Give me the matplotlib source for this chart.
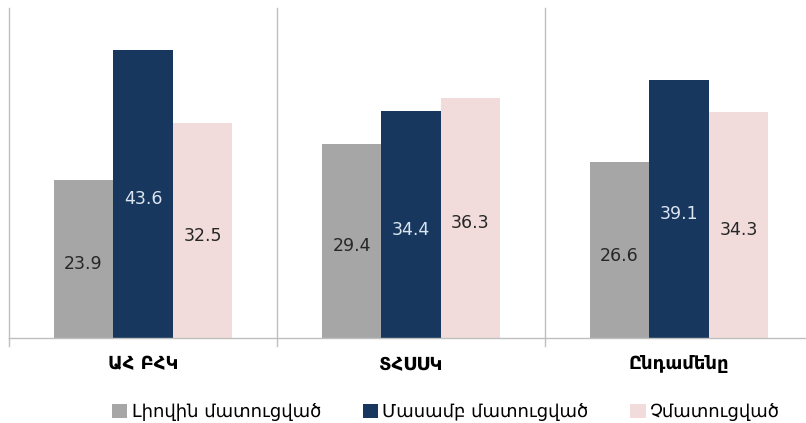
import matplotlib
matplotlib.use("Agg")
import matplotlib.pyplot as plt
import numpy as np
from matplotlib.patches import Patch

categories = ["ԱՀ ԲՀԿ", "ՏՀՍՍԿ", "Ընդամենը"]
series_names = ["Լիովին մատուցված", "Մասամբ մատուցված", "Չմատուցված"]
full = [23.9, 29.4, 26.6]
partial = [43.6, 34.4, 39.1]
none_ = [32.5, 36.3, 34.3]
series = [full, partial, none_]
colors = ["#A6A6A6", "#17375E", "#F2DCDB"]
label_colors = ["#262626", "#DCE6F2", "#262626"]

W, H = 806, 423
fig = plt.figure(figsize=(W / 100, H / 100), dpi=100)
ax = fig.add_axes([9 / W, 1 - 338 / H, 804 / W, 330 / H])

x = np.arange(len(categories))
bw = 59.5 / 268
for i, (vals, c, lc) in enumerate(zip(series, colors, label_colors)):
    pos = x + (i - 1) * bw
    ax.bar(pos, vals, width=bw, color=c, label=series_names[i], zorder=2)
    for p, v in zip(pos, vals):
        ax.text(p, v / 2 - 0.8, f"{v}", ha="center", va="center", color=lc,
                fontsize=12.5, family="DejaVu Sans")

ax.set_xlim(-0.5, 2.5)
ax.set_ylim(0, 50)
ax.set_yticks([])
ax.set_xticks([])
for s in ["top", "right", "left"]:
    ax.spines[s].set_visible(False)
ax.spines["bottom"].set_color("#BFBFBF")
ax.spines["bottom"].set_linewidth(1)

# group separators
for xs in [-0.5, 0.5, 1.5, 2.5]:
    ax.plot([xs, xs], [0, 50], color="#BFBFBF", lw=1, clip_on=False, zorder=1)
    ax.plot([xs, xs], [0, -1.2], color="#BFBFBF", lw=1, clip_on=False, zorder=1)

for xi, cat in zip(x, categories):
    ax.text(xi, -3.95, cat, ha="center", va="center", fontsize=13,
            family="DejaVu Sans", fontweight="bold", color="#000000")

handles = [Patch(facecolor=c, edgecolor="none") for c in colors]
fig.legend(handles, series_names, loc="center", bbox_to_anchor=(446 / W, 1 - 412 / H),
           ncol=3, frameon=False, handlelength=0.85, handleheight=0.85,
           handletextpad=0.25, columnspacing=2.3,
           prop={"family": "DejaVu Sans", "size": 13})

fig.savefig("out.png", dpi=100)
